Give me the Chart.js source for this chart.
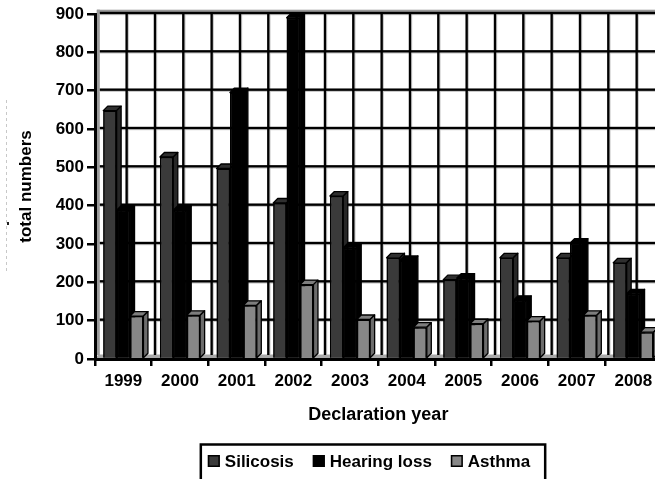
<!DOCTYPE html>
<html>
<head>
<meta charset="utf-8">
<script src="https://cdn.jsdelivr.net/npm/chart.js@4.4.1/dist/chart.umd.min.js"></script>
<style>
  html, body { margin: 0; padding: 0; background: #fff; overflow: hidden; width: 655px; height: 479px; }
  canvas { display: block; }
</style>
</head>
<body>
<canvas id="chart" width="665" height="479"></canvas>
<script>
// Declared occupational disease cases per year
const years = ['1999', '2000', '2001', '2002', '2003', '2004', '2005', '2006', '2007', '2008'];
const silicosis   = [648, 527, 497, 407, 425, 264, 207, 264, 264, 251];
const hearingLoss = [388, 388, 695, 890, 290, 257, 211, 153, 302, 170];
const asthma      = [112, 114, 140, 194, 103, 83, 92, 99, 114, 70];
const seriesNames = ['Silicosis', 'Hearing loss', 'Asthma'];
const yMin = 0, yMax = 900, yStep = 100;

const FONT = "'Liberation Sans', Arial, Helvetica, sans-serif";
const DEPTH = 4.5;     // oblique depth of each column
const WALL_DX = 3.3;   // back wall shift
const WALL_DY = 1;

const palette = [
  { front: '#3a3a3a', top: '#2f2f2f', side: '#272727' },
  { front: '#000000', top: '#000000', side: '#000000' },
  { front: '#878787', top: '#7e7e7e', side: '#6c6c6c' }
];

function poly(ctx, pts, fill) {
  ctx.beginPath();
  ctx.moveTo(pts[0][0], pts[0][1]);
  for (let i = 1; i < pts.length; i++) ctx.lineTo(pts[i][0], pts[i][1]);
  ctx.closePath();
  ctx.fillStyle = fill;
  ctx.fill();
  ctx.stroke();
}

// Columns with their top and side faces, series by series
function drawColumns(chart) {
  const { ctx } = chart;
  ctx.save();
  chart.data.datasets.forEach((ds, i) => {
    const meta = chart.getDatasetMeta(i);
    const col = palette[i];
    meta.data.forEach(el => el.draw(ctx));
    ctx.strokeStyle = '#000';
    ctx.lineWidth = 1.3;
    ctx.lineJoin = 'round';
    meta.data.forEach(el => {
      const { x, y, width, base } = el.getProps(['x', 'y', 'width', 'base'], true);
      const l = x - width / 2, r = x + width / 2, d = DEPTH;
      poly(ctx, [[l, y], [l + d, y - d], [r + d, y - d], [r, y]], col.top);
      poly(ctx, [[r, y], [r + d, y - d], [r + d, base - d], [r, base]], col.side);
    });
  });
  ctx.restore();
}

// Boxed legend under the axis title
function drawLegend(chart) {
  const { ctx } = chart;
  ctx.save();
  ctx.font = 'bold 17px ' + FONT;
  const sq = 12, gapText = 5, gapItem = 19;
  const widths = seriesNames.map(s => ctx.measureText(s).width);
  const total = widths.reduce((s, w) => s + sq + gapText + w, 0) + gapItem * (seriesNames.length - 1);
  const cx = 369, cy = 461;
  let x = cx - total / 2;
  const start = x;
  seriesNames.forEach((name, i) => {
    ctx.fillStyle = palette[i].front;
    ctx.fillRect(x, cy - 6, sq, sq);
    ctx.strokeStyle = '#000'; ctx.lineWidth = 1.5;
    ctx.strokeRect(x + 0.75, cy - 5.25, sq - 1.5, sq - 1.5);
    ctx.fillStyle = '#000';
    ctx.textBaseline = 'middle';
    ctx.textAlign = 'left';
    ctx.fillText(name, x + sq + gapText, cy + 1);
    x += sq + gapText + widths[i] + gapItem;
  });
  const end = x - gapItem;
  ctx.strokeStyle = '#000'; ctx.lineWidth = 2.5;
  ctx.strokeRect(start - 7, 444.5, end - start + 22, 60);
  ctx.restore();
}

// Back wall, grid and floor, painted underneath everything already drawn
function drawWall(chart) {
  const { ctx, chartArea: a, scales: { y } } = chart;
  const left = a.left + WALL_DX, right = a.right + WALL_DX;
  const rows = [];
  for (let v = yMin + yStep; v <= yMax; v += yStep) rows.push(y.getPixelForValue(v) - WALL_DY);
  const n = years.length * 2;
  const cols = [];
  for (let k = 1; k <= n; k++) cols.push(a.left + k * (a.right - a.left) / n + WALL_DX);

  ctx.save();
  ctx.globalCompositeOperation = 'destination-over';
  // grid lines (black, about 2.4px)
  ctx.fillStyle = '#000000';
  rows.forEach(py => ctx.fillRect(left + 1.5, py - 1.2, right - left, 2.4));
  cols.forEach(px => ctx.fillRect(px - 1.2, a.top - 1.5, 2.4, a.bottom - 4 - (a.top - 1.5)));
  // soft shadow next to each grid line
  ctx.fillStyle = '#c4c4c4';
  rows.forEach(py => ctx.fillRect(left + 1.5, py + 1.2, right - left, 1));
  cols.forEach(px => ctx.fillRect(px + 1.2, a.top - 1.5, 1, a.bottom - 4 - (a.top - 1.5)));
  // wall edges
  ctx.fillStyle = '#9a9a9a';
  ctx.fillRect(left - 1.5, a.top - 4.3, 3, a.bottom - 4 - (a.top - 4.3));
  ctx.fillRect(left - 1.5, a.top - 4.3, right + 5 - left, 3);
  // floor
  ctx.fillStyle = '#a8a8a8';
  ctx.beginPath();
  ctx.moveTo(a.left, a.bottom);
  ctx.lineTo(left, a.bottom - 4.5);
  ctx.lineTo(right, a.bottom - 4.5);
  ctx.lineTo(a.right, a.bottom);
  ctx.closePath();
  ctx.fill();
  // faint dashed guide at the far left
  ctx.fillStyle = '#c8c8c8';
  for (let gy = 100; gy < 270; gy += 6) ctx.fillRect(6, gy, 1, 3);
  ctx.fillStyle = '#222222';
  ctx.fillRect(7, 222, 2, 3);
  ctx.restore();
}

const scenePlugin = {
  id: 'scene',
  afterDraw(chart) {
    drawColumns(chart);
    drawLegend(chart);
    drawWall(chart);
  }
};

const ds = [silicosis, hearingLoss, asthma].map((values, i) => ({
  label: seriesNames[i],
  data: values,
  backgroundColor: palette[i].front,
  borderColor: '#000',
  borderWidth: 1.5,
  categoryPercentage: 0.71,
  barPercentage: 1.0
}));

new Chart(document.getElementById('chart'), {
  type: 'bar',
  data: { labels: years, datasets: ds },
  options: {
    responsive: false,
    animation: false,
    events: [],
    layout: { padding: { top: 14, left: 0, right: 3.3, bottom: 52 } },
    plugins: { legend: { display: false }, tooltip: { enabled: false } },
    scales: {
      x: {
        afterFit(scale) { scale.height = 68; },
        grid: { offset: true, drawOnChartArea: false, color: '#000', lineWidth: 2.5, tickLength: 7 },
        border: { display: true, color: '#000', width: 3 },
        ticks: { color: '#000', font: { family: FONT, size: 17, weight: 'bold' }, padding: 5, maxRotation: 0, autoSkip: false },
        title: { display: true, text: 'Declaration year', color: '#000', font: { family: FONT, size: 18, weight: 'bold' }, padding: { top: 0, bottom: 1 } }
      },
      y: {
        min: yMin, max: yMax,
        afterFit(scale) { scale.width = 95; },
        grid: { drawOnChartArea: false, color: '#000', lineWidth: 2.5, tickLength: 8 },
        border: { display: true, color: '#000', width: 3 },
        ticks: { stepSize: yStep, color: '#000', font: { family: FONT, size: 17, weight: 'bold' }, padding: 3 },
        title: { display: true, text: 'total numbers', color: '#000', font: { family: FONT, size: 17, weight: 'bold' }, padding: { top: 16.5, bottom: 0 } }
      }
    }
  },
  plugins: [scenePlugin]
});
</script>
</body>
</html>
